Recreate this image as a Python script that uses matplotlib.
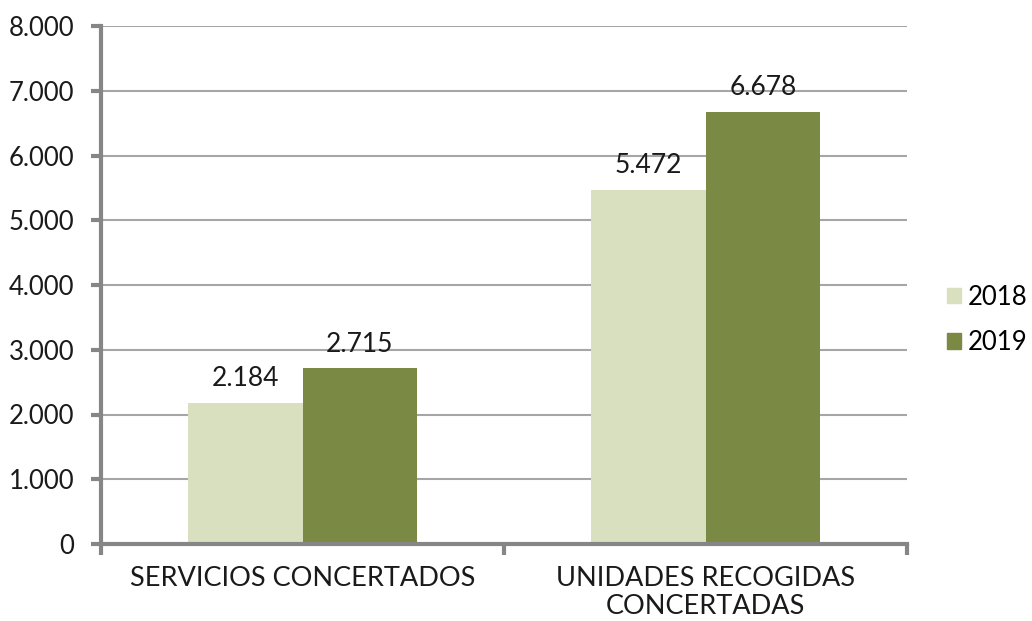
import numpy as np
import matplotlib.pyplot as plt
from matplotlib.patches import Patch

# DATA
categories = ["SERVICIOS CONCERTADOS", "UNIDADES RECOGIDAS\nCONCERTADAS"]
years = ["2018", "2019"]
values_2018 = [2184, 5472]
values_2019 = [2715, 6678]
y_ticks = [0, 1000, 2000, 3000, 4000, 5000, 6000, 7000, 8000]

colors = ["#D8E0BF", "#7A8944"]
grid_color = "#A6A6A6"
spine_color = "#868686"


def fmt(v):
    return f"{v:,}".replace(",", ".")


plt.rcParams["font.family"] = ["Lato", "DejaVu Sans"]

fig = plt.figure(figsize=(10.32, 6.21), dpi=100)
ax = fig.add_axes([101 / 1032, 1 - 544 / 621, 806 / 1032, 518 / 621])

x = np.arange(len(categories))
width = 0.285

bars_a = ax.bar(x - width / 2, values_2018, width, color=colors[0], zorder=3)
bars_b = ax.bar(x + width / 2, values_2019, width, color=colors[1], zorder=3)

# VALUE LABELS
for bars, vals in [(bars_a, values_2018), (bars_b, values_2019)]:
    for b, v in zip(bars, vals):
        ax.text(
            b.get_x() + b.get_width() / 2,
            v + 180,
            fmt(v),
            ha="center",
            va="bottom",
            fontsize=19,
            color="#1a1a1a",
        )

ax.set_xlim(-0.5, 1.5)
ax.set_ylim(0, 8000)
ax.set_yticks(y_ticks)
ax.set_yticklabels([fmt(v) for v in y_ticks], fontsize=18.5, color="#1a1a1a")

# category labels without ticks, ticks at the boundaries
ax.set_xticks([-0.5, 0.5, 1.5])
ax.set_xticklabels([])
ax.set_xticks(x, minor=True)
ax.set_xticklabels(categories, minor=True, fontsize=19.5, color="#1a1a1a", linespacing=1.15)
ax.tick_params(axis="x", which="minor", length=0, pad=16)
ax.tick_params(axis="x", which="major", length=8, width=3, color=spine_color, direction="out")
ax.tick_params(axis="y", length=7, width=3, color=spine_color, pad=12)

ax.yaxis.grid(True, color=grid_color, linewidth=1.5, zorder=0)
ax.set_axisbelow(True)

for s in ["top", "right"]:
    ax.spines[s].set_visible(False)
for s in ["left", "bottom"]:
    ax.spines[s].set_color(spine_color)
    ax.spines[s].set_linewidth(3)
    ax.spines[s].set_zorder(4)

# LEGEND
handles = [Patch(color=c, label=y) for c, y in zip(colors, years)]
fig.legend(
    handles=handles,
    loc="center left",
    bbox_to_anchor=(924 / 1032, 1 - 320 / 621),
    frameon=False,
    fontsize=18.5,
    handlelength=0.55,
    handleheight=0.55,
    handletextpad=0.25,
    labelspacing=0.8,
)

fig.savefig("out.png", dpi=100)
